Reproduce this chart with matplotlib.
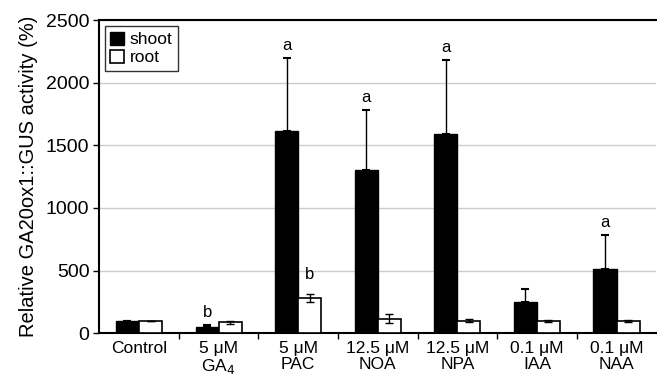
import numpy as np
import matplotlib.pyplot as plt

plt.rcParams['font.family'] = ['Liberation Sans', 'DejaVu Sans']

groups = ["Control", "5 \u03bcM\nGA$_4$", "5 \u03bcM\nPAC", "12.5 \u03bcM\nNOA",
          "12.5 \u03bcM\nNPA", "0.1 \u03bcM\nIAA", "0.1 \u03bcM\nNAA"]
shoot = [100, 50, 1615, 1305, 1590, 245, 515]
shoot_err = [0, 12, 580, 480, 595, 110, 265]
root = [100, 85, 280, 115, 100, 95, 95]
root_err = [0, 15, 35, 35, 15, 10, 10]
shoot_letters = ["", "b", "a", "a", "a", "", "a"]
root_letters = ["", "", "b", "", "", "", ""]

fig = plt.figure(figsize=(6.57, 3.82), dpi=100)
ax = fig.add_axes([0.151, 0.128, 0.848, 0.819])

x = np.arange(len(groups))
w = 0.29
ax.bar(x - w / 2, shoot, w, color="black", edgecolor="black", lw=1.0,
       label="shoot", zorder=3)
ax.bar(x + w / 2, root, w, color="white", edgecolor="black", lw=1.2,
       label="root", zorder=3)
ax.errorbar(x - w / 2, shoot, yerr=[np.zeros(len(shoot)), shoot_err],
            fmt="none", ecolor="black", elinewidth=1, capsize=3, capthick=1.5,
            zorder=4)
ax.errorbar(x + w / 2, root, yerr=root_err, fmt="none", ecolor="black",
            elinewidth=1, capsize=3, capthick=1, zorder=4)

for i, t in enumerate(shoot_letters):
    if t:
        ax.text(x[i] - w / 2, shoot[i] + shoot_err[i] + 40, t, ha="center",
                va="bottom", fontsize=12)
for i, t in enumerate(root_letters):
    if t:
        ax.text(x[i] + w / 2, root[i] + root_err[i] + 90, t, ha="center",
                va="bottom", fontsize=12)

ax.set_xlim(-0.5, len(groups) - 0.5)
ax.set_ylim(0, 2500)
ax.set_yticks(range(0, 2501, 500))
ax.yaxis.grid(True, color="#cccccc", lw=1, zorder=0)
ax.set_xticks(x)
ax.set_xticklabels(groups, fontsize=12.5, linespacing=1.05)
ax.tick_params(axis="x", length=0, pad=6)
ax.set_xticks(np.arange(0.5, len(groups) - 0.5, 1), minor=True)
ax.tick_params(axis="x", which="minor", length=4, direction="out", width=1)
ax.tick_params(axis="y", length=4, direction="out", width=1, labelsize=14,
               pad=3)
ax.set_ylabel("Relative GA20ox1::GUS activity (%)", fontsize=14.5,
              labelpad=6)

for s in ["left", "bottom", "top"]:
    ax.spines[s].set_linewidth(1.5)
ax.spines["right"].set_visible(False)

leg = ax.legend(loc="upper left", fontsize=12.5, frameon=True, fancybox=False,
                edgecolor="black", handlelength=0.8, handleheight=0.8,
                handletextpad=0.3, borderpad=0.3, labelspacing=0.15,
                borderaxespad=0.35)
leg.get_frame().set_linewidth(1)

fig.savefig("out.png", dpi=100)
